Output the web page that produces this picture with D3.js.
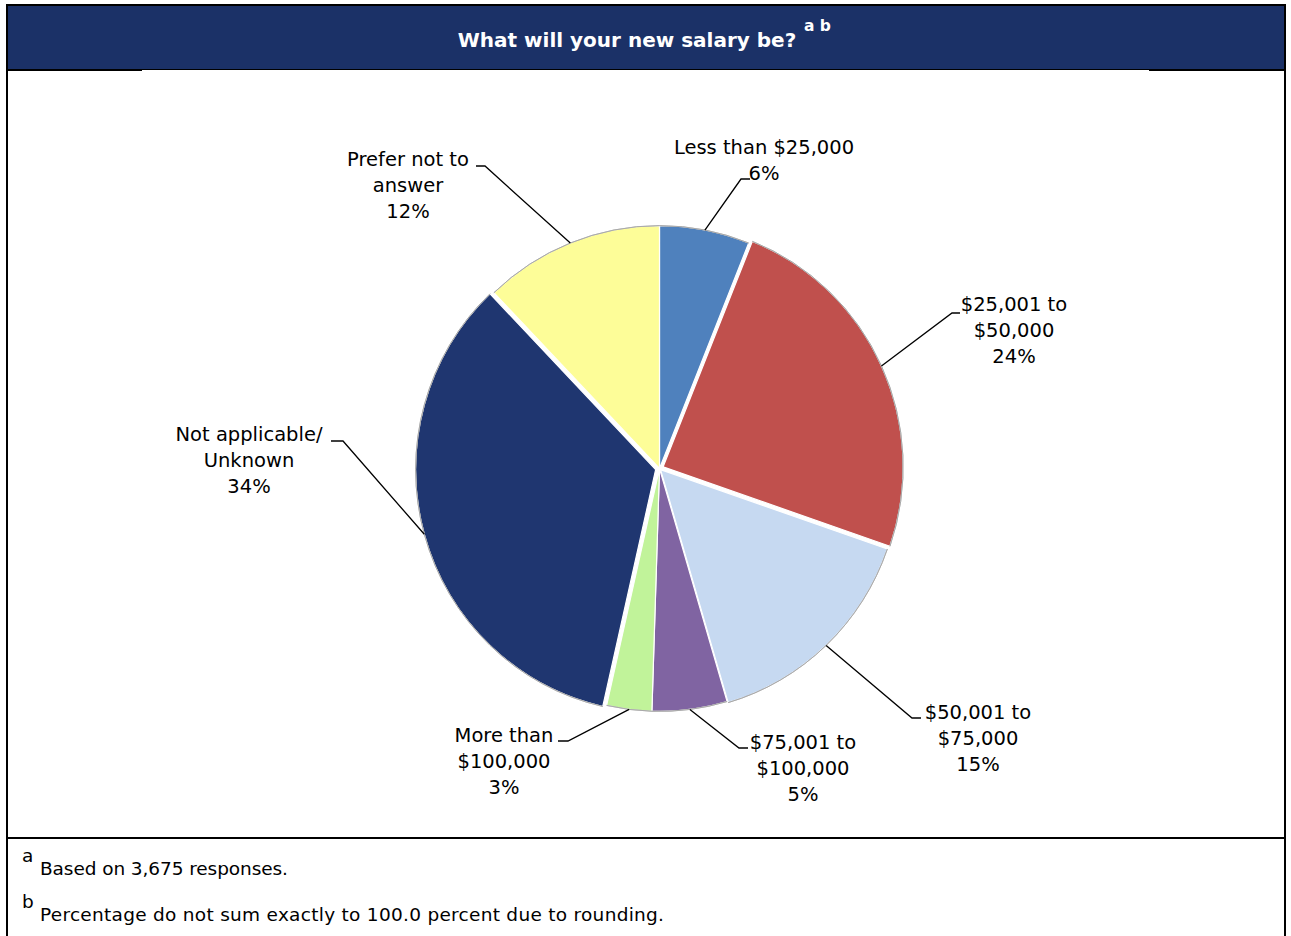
<!DOCTYPE html>
<html>
<head>
<meta charset="utf-8">
<script src="https://cdn.jsdelivr.net/npm/d3@7"></script>
<style>
  html, body { margin: 0; padding: 0; background: #fff; }
  svg { display: block; }
  text { font-family: "DejaVu Sans", Verdana, sans-serif; }
</style>
</head>
<body>
<svg id="chart" width="1291" height="936"></svg>
<script>
// Survey answers, clockwise from 12 o'clock
const categories = [
  "Less than $25,000",
  "$25,001 to $50,000",
  "$50,001 to $75,000",
  "$75,001 to $100,000",
  "More than $100,000",
  "Not applicable/ Unknown",
  "Prefer not to answer"
];
const values = [6, 24, 15, 5, 3, 34, 12];
const labelLines = [
  ["Less than $25,000", "6%"],
  ["$25,001 to", "$50,000", "24%"],
  ["$50,001 to", "$75,000", "15%"],
  ["$75,001 to", "$100,000", "5%"],
  ["More than", "$100,000", "3%"],
  ["Not applicable/", "Unknown", "34%"],
  ["Prefer not to", "answer", "12%"]
];
const colors = ["#4f81bd", "#c0504d", "#c6d9f1", "#8064a2", "#c1f39a", "#1f3670", "#fdfd98"];
const titleText = "What will your new salary be?";
const footnotes = [
  { mark: "a", text: "Based on 3,675 responses.", width: 248 },
  { mark: "b", text: "Percentage do not sum exactly to 100.0 percent due to rounding.", width: 624 }
];

// label placement: centre x, centre y of the first line, leader elbow and end
const labelLayout = [
  { x: 764, y: 147, ex: 741, ey: 179, hx: 750 },
  { x: 1014, y: 304, ex: 952, ey: 313, hx: 960 },
  { x: 978, y: 712, ex: 912, ey: 718, hx: 921 },
  { x: 803, y: 742, ex: 739, ey: 748, hx: 748 },
  { x: 504, y: 735, ex: 568, ey: 741, hx: 558 },
  { x: 249, y: 434, ex: 343, ey: 441, hx: 331 },
  { x: 408, y: 159, ex: 485, ey: 166, hx: 476 }
];
const explode = [0, 4, 1.5, 0, 0, 4, 0];

const W = 1291, H = 936;
const svg = d3.select("#chart");

// frame and header band
svg.append("rect").attr("x", 7).attr("y", 5).attr("width", 1278).attr("height", 64)
  .attr("fill", "#1b3167");
svg.append("line").attr("x1", 6).attr("x2", 1286).attr("y1", 5).attr("y2", 5)
  .attr("stroke", "#000").attr("stroke-width", 2);
svg.append("line").attr("x1", 7).attr("x2", 7).attr("y1", 4).attr("y2", H)
  .attr("stroke", "#000").attr("stroke-width", 2);
svg.append("line").attr("x1", 1285).attr("x2", 1285).attr("y1", 4).attr("y2", H)
  .attr("stroke", "#000").attr("stroke-width", 2);
svg.append("line").attr("x1", 7).attr("x2", 1285).attr("y1", 69.5).attr("y2", 69.5)
  .attr("stroke", "#000").attr("stroke-width", 1);
svg.append("line").attr("x1", 7).attr("x2", 142).attr("y1", 70).attr("y2", 70)
  .attr("stroke", "#000").attr("stroke-width", 2);
svg.append("line").attr("x1", 1149).attr("x2", 1285).attr("y1", 70).attr("y2", 70)
  .attr("stroke", "#000").attr("stroke-width", 2);
svg.append("line").attr("x1", 7).attr("x2", 1285).attr("y1", 838).attr("y2", 838)
  .attr("stroke", "#000").attr("stroke-width", 2);

// title with footnote marks
svg.append("text").attr("x", 627).attr("y", 47)
  .attr("text-anchor", "middle").attr("fill", "#fff")
  .attr("font-size", 20).attr("font-weight", "bold").text(titleText);
svg.append("text").attr("x", 804).attr("y", 31).attr("fill", "#fff")
  .attr("font-size", 15.5).attr("font-weight", "bold").text("a b");

// pie
const cx = 659.5, cy = 468.5, r = 240;
const pie = d3.pie().sort(null).value(d => d)(values);
const arc = d3.arc().innerRadius(0).outerRadius(r);
const offset = (d, i) => {
  const a = (d.startAngle + d.endAngle) / 2;
  return `translate(${Math.sin(a) * explode[i]},${-Math.cos(a) * explode[i]})`;
};

const g = svg.append("g").attr("transform", `translate(${cx},${cy}) scale(1,1.012)`);
g.selectAll("path.slice").data(pie).join("path")
  .attr("class", "slice")
  .attr("transform", offset)
  .attr("d", arc)
  .attr("fill", (d, i) => colors[i])
  .attr("stroke", "#fff").attr("stroke-width", 1.2)
  .attr("stroke-linejoin", "round");
g.selectAll("path.rim").data(pie).join("path")
  .attr("class", "rim")
  .attr("transform", offset)
  .attr("d", d3.arc().innerRadius(r).outerRadius(r))
  .attr("fill", "none").attr("stroke", "#a6a6a6").attr("stroke-width", 0.8);

// leader lines and labels
pie.forEach((d, i) => {
  const a = (d.startAngle + d.endAngle) / 2;
  const px = cx + Math.sin(a) * (r + explode[i]);
  const py = cy - Math.cos(a) * (r + explode[i]) * 1.012;
  const L = labelLayout[i];
  svg.append("polyline")
    .attr("points", `${px},${py} ${L.ex},${L.ey} ${L.hx},${L.ey}`)
    .attr("fill", "none").attr("stroke", "#000").attr("stroke-width", 1.3);
  const t = svg.append("text").attr("text-anchor", "middle")
    .attr("font-size", 19.5).attr("fill", "#000");
  labelLines[i].forEach((line, k) => {
    t.append("tspan").attr("x", L.x).attr("y", L.y + 7 + k * 26).text(line);
  });
});

// footnotes
footnotes.forEach((f, i) => {
  const base = 875 + i * 46;
  svg.append("text").attr("x", 22).attr("y", base - 13)
    .attr("font-size", 18.5).attr("fill", "#000").text(f.mark);
  svg.append("text").attr("x", 40).attr("y", base)
    .attr("font-size", 18.5).attr("fill", "#000")
    .attr("textLength", f.width).attr("lengthAdjust", "spacing").text(f.text);
});
</script>
</body>
</html>
